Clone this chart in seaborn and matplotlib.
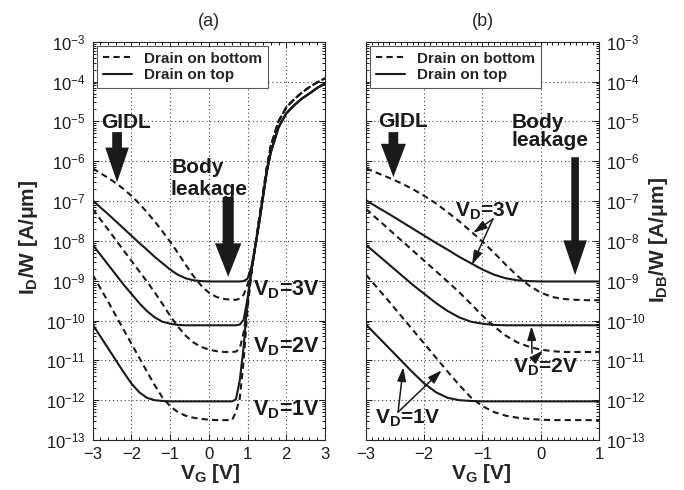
import matplotlib
matplotlib.use("Agg")
import numpy as np
import pandas as pd
import seaborn as sns
import matplotlib.pyplot as plt
from matplotlib.lines import Line2D
from matplotlib.ticker import MultipleLocator, LogLocator, NullFormatter, LogFormatterSciNotation

# ---------------------------------------------------------------------------
# Data: log10 of current per width [A/um] versus gate voltage [V]
# ---------------------------------------------------------------------------
# gate voltages of the leakage (GIDL + body) branch, shared by both panels
vg_leak = [-3.0, -2.8, -2.6, -2.4, -2.2, -2.0, -1.8, -1.6, -1.4, -1.2, -1.0,
           -0.8, -0.6, -0.4, -0.2, 0.0, 0.2, 0.4, 0.6, 0.8, 1.0]
# gate voltages of the channel turn-on branch (panel a only)
vg_on = [0.7, 0.8, 0.9, 1.0, 1.1, 1.2, 1.3, 1.4, 1.5, 1.6, 1.8, 2.0, 2.2,
         2.4, 2.6, 2.8, 3.0]

# leakage branch, drain on top (solid)
leak_top_3v = [-6.98, -7.16, -7.33, -7.51, -7.69, -7.87, -8.05, -8.22, -8.40, -8.56, -8.72,
               -8.85, -8.94, -8.99, -9.01, -9.02, -9.02, -9.02, -9.02, -9.02, -9.02]
leak_top_2v = [-8.10, -8.35, -8.60, -8.85, -9.10, -9.33, -9.56, -9.76, -9.92, -10.03, -10.08,
               -10.11, -10.12, -10.12, -10.12, -10.12, -10.12, -10.12, -10.12, -10.12, -10.12]
leak_top_1v = [-10.10, -10.40, -10.70, -11.00, -11.30, -11.58, -11.80, -11.94, -12.00, -12.02, -12.03,
               -12.03, -12.03, -12.03, -12.03, -12.03, -12.03, -12.03, -12.03, -12.03, -12.03]
# leakage branch, drain on bottom (dashed)
leak_bot_3v = [-6.18, -6.30, -6.42, -6.55, -6.70, -6.87, -7.06, -7.28, -7.51, -7.76, -8.02,
               -8.30, -8.60, -8.88, -9.12, -9.30, -9.41, -9.46, -9.48, -9.49, -9.49]
leak_bot_2v = [-7.20, -7.46, -7.72, -7.98, -8.24, -8.50, -8.76, -9.02, -9.29, -9.58, -9.88,
               -10.15, -10.38, -10.55, -10.66, -10.73, -10.77, -10.79, -10.79, -10.79, -10.79]
leak_bot_1v = [-8.85, -9.19, -9.53, -9.88, -10.23, -10.58, -10.93, -11.28, -11.62, -11.93, -12.15,
               -12.30, -12.39, -12.44, -12.47, -12.49, -12.50, -12.50, -12.50, -12.50, -12.50]

# turn-on branch of the drain current, drain on top (solid)
on_top_3v = [-9.02, -9.02, -9.01, -8.95, -8.65, -8.12, -7.55, -6.90, -6.25, -5.78, -5.15,
             -4.80, -4.60, -4.43, -4.30, -4.16, -4.05]
on_top_2v = [-10.12, -10.10, -9.98, -9.45, -8.75, -8.15, -7.55, -6.90, -6.25, -5.78, -5.15,
             -4.80, -4.60, -4.43, -4.30, -4.16, -4.05]
on_top_1v = [-11.98, -11.50, -10.65, -9.50, -8.75, -8.15, -7.55, -6.90, -6.25, -5.78, -5.15,
             -4.80, -4.60, -4.43, -4.30, -4.16, -4.05]
# turn-on branch, drain on bottom (dashed)
on_bot_3v = [-9.48, -9.45, -9.35, -9.10, -8.75, -8.12, -7.45, -6.80, -6.15, -5.62, -5.00,
             -4.65, -4.45, -4.28, -4.14, -4.02, -3.92]
on_bot_2v = [-10.78, -10.70, -10.30, -9.60, -8.80, -8.12, -7.45, -6.80, -6.15, -5.62, -5.00,
             -4.65, -4.45, -4.28, -4.14, -4.02, -3.92]
on_bot_1v = [-12.30, -11.95, -11.00, -9.70, -8.80, -8.12, -7.45, -6.80, -6.15, -5.62, -5.00,
             -4.65, -4.45, -4.28, -4.14, -4.02, -3.92]

drain_labels = ["Drain on bottom", "Drain on top"]
vd_labels = ["3V", "2V", "1V"]
y_decades = list(range(-13, -2))

# ---------------------------------------------------------------------------
# Style
# ---------------------------------------------------------------------------
sns.set_theme(style="ticks")
plt.rcParams["font.family"] = ["Liberation Sans", "DejaVu Sans"]
plt.rcParams["mathtext.fontset"] = "custom"
plt.rcParams["mathtext.rm"] = "Liberation Sans"
plt.rcParams["mathtext.bf"] = "Liberation Sans:bold"
plt.rcParams["mathtext.it"] = "Liberation Sans:italic"
plt.rcParams["axes.linewidth"] = 0.8

fig = plt.figure(figsize=(6.84, 4.90), dpi=100)
ax_a = fig.add_axes([0.1355, 0.102, 0.3396, 0.8129])
ax_b = fig.add_axes([0.5351, 0.102, 0.3406, 0.8129])

n_leak_a = vg_leak.index(0.6) + 1
vg_a = vg_leak[:n_leak_a] + vg_on


def curve_frame(vg, series):
    rows = []
    for (drain, vd), logs in series.items():
        for v, lg in zip(vg, logs):
            rows.append({"vg": v, "current": 10.0 ** lg, "drain": drain,
                         "curve": f"{drain} {vd}"})
    return pd.DataFrame(rows)


series_a = {
    ("Drain on bottom", "3V"): leak_bot_3v[:n_leak_a] + on_bot_3v,
    ("Drain on bottom", "2V"): leak_bot_2v[:n_leak_a] + on_bot_2v,
    ("Drain on bottom", "1V"): leak_bot_1v[:n_leak_a] + on_bot_1v,
    ("Drain on top", "3V"): leak_top_3v[:n_leak_a] + on_top_3v,
    ("Drain on top", "2V"): leak_top_2v[:n_leak_a] + on_top_2v,
    ("Drain on top", "1V"): leak_top_1v[:n_leak_a] + on_top_1v,
}
series_b = {
    ("Drain on bottom", "3V"): leak_bot_3v,
    ("Drain on bottom", "2V"): leak_bot_2v,
    ("Drain on bottom", "1V"): leak_bot_1v,
    ("Drain on top", "3V"): leak_top_3v,
    ("Drain on top", "2V"): leak_top_2v,
    ("Drain on top", "1V"): leak_top_1v,
}

dash_map = {"Drain on bottom": (3, 2), "Drain on top": ""}

for ax, vg, series in [(ax_a, vg_a, series_a), (ax_b, vg_leak, series_b)]:
    df = curve_frame(vg, series)
    sns.lineplot(data=df, x="vg", y="current", units="curve", style="drain",
                 dashes=dash_map, estimator=None, sort=False, color="k",
                 lw=1.5, legend=False, ax=ax)
    ax.set_yscale("log")
    ax.set_ylim(10.0 ** y_decades[0], 10.0 ** y_decades[-1])
    ax.yaxis.set_major_locator(LogLocator(base=10, numticks=30))
    ax.yaxis.set_minor_locator(LogLocator(base=10, subs=np.arange(2, 10), numticks=100))
    ax.yaxis.set_major_formatter(LogFormatterSciNotation())
    ax.yaxis.set_minor_formatter(NullFormatter())
    ax.xaxis.set_major_locator(MultipleLocator(1))
    ax.grid(True, which="major", ls=(0, (1, 2.5)), color="0.25", lw=0.8)
    ax.tick_params(which="both", direction="in", top=True, right=True,
                   width=0.7, labelsize=12, colors="k")
    ax.tick_params(which="major", length=4, pad=5)
    ax.tick_params(which="minor", length=2)
    ax.set_xlabel("")
    ax.set_ylabel("")
    handles = [Line2D([], [], color="k", lw=1.5, dashes=(3, 2), label=drain_labels[0]),
               Line2D([], [], color="k", lw=1.5, label=drain_labels[1])]
    leg = ax.legend(handles=handles, loc="upper left", prop={"weight": "bold", "size": 11},
                    frameon=True, fancybox=False, edgecolor="0.35", framealpha=1,
                    handlelength=1.9, handletextpad=0.8, borderpad=0.4,
                    borderaxespad=0.25, labelspacing=0.15)
    leg.get_frame().set_linewidth(0.8)

ax_a.set_xlim(-3, 3)
ax_a.xaxis.set_minor_locator(MultipleLocator(0.2))
ax_b.set_xlim(-3, 1)
ax_b.xaxis.set_minor_locator(MultipleLocator(0.1))
ax_b.tick_params(which="both", labelleft=False, labelright=True)

ax_a.set_title("(a)", fontsize=13, pad=11)
ax_b.set_title("(b)", fontsize=13, pad=11)

# axis labels
fig.text(0.041, 0.515, "$\\mathbf{I_D}$/W [A/μm]", rotation=90, ha="center", va="center",
         fontsize=15, fontweight="bold")
fig.text(0.962, 0.51, "$\\mathbf{I_{DB}}$/W [A/μm]", rotation=90, ha="center", va="center",
         fontsize=15, fontweight="bold")
fig.text(0.308, 0.022, "$\\mathbf{V_G}$ [V]", ha="center", va="baseline",
         fontsize=15, fontweight="bold")
fig.text(0.703, 0.022, "$\\mathbf{V_G}$ [V]", ha="center", va="baseline",
         fontsize=15, fontweight="bold")


def block_arrow(ax, x, y_tail, y_tip, tail_w, head_w, head_l):
    style = f"simple,head_length={head_l},head_width={head_w},tail_width={tail_w}"
    ax.annotate("", xy=(x, 10.0 ** y_tip), xytext=(x, 10.0 ** y_tail),
                arrowprops=dict(arrowstyle=style, mutation_scale=1, fc="k", ec="k",
                                lw=0, shrinkA=0, shrinkB=0))


def thin_arrow(ax, start, end):
    ax.annotate("", xy=(end[0], 10.0 ** end[1]), xytext=(start[0], 10.0 ** start[1]),
                arrowprops=dict(arrowstyle="-|>,head_length=0.7,head_width=0.22",
                                mutation_scale=12, fc="k", ec="k", lw=1.1,
                                shrinkA=0, shrinkB=0))


txt = dict(fontsize=15, fontweight="bold", color="k")

# panel (a) annotations
ax_a.text(-2.14, 10 ** -5.17, "GIDL", ha="center", va="baseline", **txt)
block_arrow(ax_a, -2.37, -5.27, -6.53, 7, 17, 25)
ax_a.text(-0.97, 10 ** -6.30, "Body", ha="left", va="baseline", **txt)
ax_a.text(-0.99, 10 ** -6.85, "leakage", ha="left", va="baseline", **txt)
block_arrow(ax_a, 0.50, -6.90, -8.90, 8, 19, 24)
for vd, ylog in zip(vd_labels, [-9.37, -10.80, -12.38]):
    ax_a.text(1.15, 10 ** ylog, f"$\\mathbf{{V_D}}$={vd}", ha="left", va="baseline",
              fontsize=15.5, fontweight="bold", color="k")

# panel (b) annotations
ax_b.text(-2.36, 10 ** -5.15, "GIDL", ha="center", va="baseline", **txt)
block_arrow(ax_b, -2.53, -5.27, -6.40, 7, 18, 24)
ax_b.text(-0.50, 10 ** -5.17, "Body", ha="left", va="baseline", **txt)
ax_b.text(-0.50, 10 ** -5.62, "leakage", ha="left", va="baseline", **txt)
block_arrow(ax_b, 0.59, -5.90, -8.86, 5.5, 17, 25)

ax_b.text(-1.47, 10 ** -7.40, "$\\mathbf{V_D}$=3V", ha="left", va="baseline", **txt)
thin_arrow(ax_b, (-0.82, -7.45), (-1.16, -7.80))
thin_arrow(ax_b, (-0.82, -7.45), (-1.18, -8.60))
ax_b.text(-0.48, 10 ** -11.30, "$\\mathbf{V_D}$=2V", ha="left", va="baseline", **txt)
thin_arrow(ax_b, (-0.15, -10.82), (-0.16, -10.14))
thin_arrow(ax_b, (-0.10, -10.95), (0.04, -10.75))
ax_b.text(-2.85, 10 ** -12.58, "$\\mathbf{V_D}$=1V", ha="left", va="baseline", **txt)
thin_arrow(ax_b, (-2.45, -12.30), (-2.36, -11.17))
thin_arrow(ax_b, (-2.45, -12.30), (-1.70, -11.25))

fig.savefig("out.png", dpi=100)
